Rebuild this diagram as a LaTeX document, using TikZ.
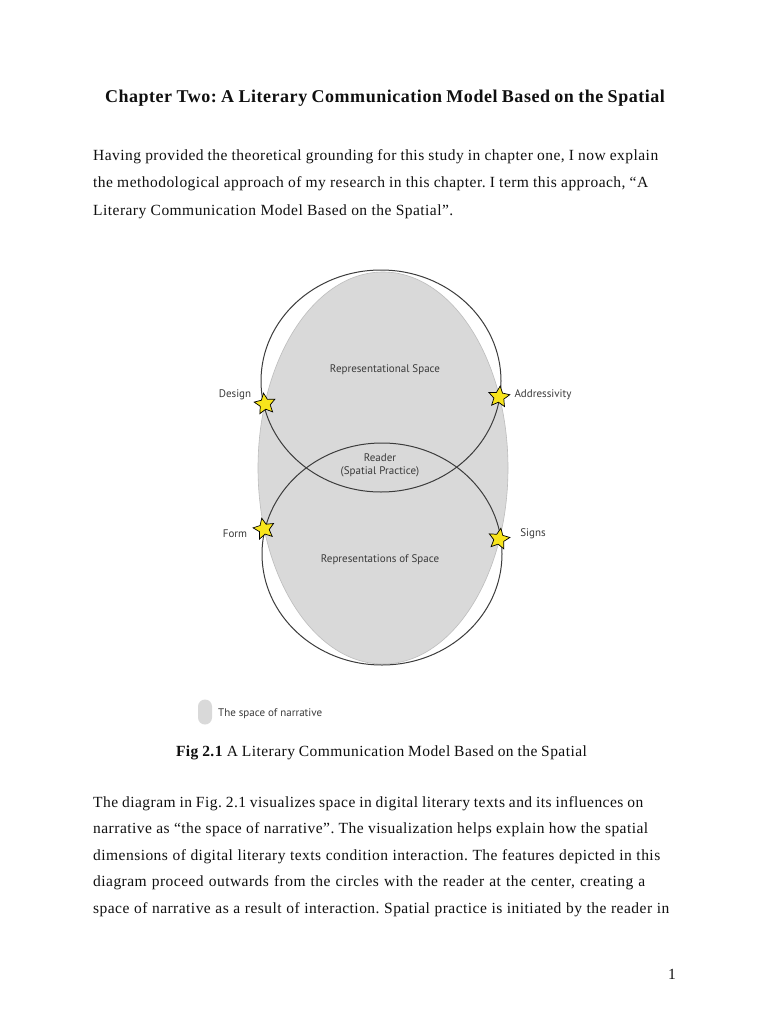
\documentclass[tikz,border=0pt]{standalone}
\usepackage{fontspec}
\setmainfont{Liberation Serif}
\newfontfamily\bodyfont[LetterSpace=3.0]{Liberation Serif}
\newfontfamily\diagfont{PT Sans}
\usetikzlibrary{shapes.geometric}
\definecolor{narr}{HTML}{D9D9D9}
\definecolor{narredge}{HTML}{BDBDBD}
\definecolor{ring}{HTML}{3C3C3C}
\definecolor{labelc}{HTML}{3A3A3A}
\definecolor{staryel}{HTML}{F7E41C}
\definecolor{inkc}{HTML}{101010}
\frenchspacing
\begin{document}
\begin{tikzpicture}[x=1pt,y=-1pt,
  bodyline/.style={anchor=base west, inner sep=0pt, text=inkc, font=\bodyfont\fontsize{15.5}{18}\selectfont\frenchspacing},
  titleline/.style={anchor=base, inner sep=0pt, text=inkc, font=\bodyfont\fontsize{18}{21}\selectfont\bfseries\frenchspacing},
  ringshape/.style={ellipse, draw=ring, line width=1pt, inner sep=0pt, minimum width=240pt, minimum height=222pt},
  narrshape/.style={ellipse, fill=narr, draw=narredge, line width=0.6pt, inner sep=0pt, minimum width=250pt, minimum height=392pt},
  starmark/.style={star, star points=5, star point ratio=2.1, minimum size=22pt, inner sep=0pt, fill=staryel, draw=black, line width=0.7pt},
  dlabel/.style={inner sep=0pt, text=labelc, font=\diagfont\fontsize{11}{13}\selectfont, align=center}
]
\useasboundingbox[fill=white] (0,0) rectangle (768,1024);

% title
\node[titleline] (title) at (385,103) {\makebox[560pt][s]{Chapter Two: A Literary Communication Model Based on the Spatial}};

% first paragraph
\node[bodyline] (p1a) at (93,161) {\makebox[565pt][s]{Having provided the theoretical grounding for this study in chapter one, I now explain}};
\node[bodyline] (p1b) at (93,188) {\makebox[555pt][s]{the methodological approach of my research in this chapter. I term this approach, “A}};
\node[bodyline] (p1c) at (93,215) {Literary Communication Model Based on the Spatial”.};

% diagram
\node[narrshape] (narr) at (383,468) {};
\node[ringshape] (upper) at (381,381) {};
\node[ringshape] (lower) at (382,554) {};

\node[starmark, rotate=8] (sDesign) at (265,404) {};
\node[starmark, rotate=-6] (sAddr) at (499,397) {};
\node[starmark, rotate=12] (sForm) at (264,529) {};
\node[starmark, rotate=-10] (sSigns) at (499,539) {};

\node[dlabel] (lDesign) at (235,395) {Design};
\node[dlabel] (lAddr) at (543,395) {Addressivity};
\node[dlabel] (lForm) at (235,534) {Form};
\node[dlabel] (lSigns) at (533,534) {Signs};
\node[dlabel] (repspace) at (385,370) {Representational Space};
\node[dlabel] (reader) at (380,465) {Reader\\(Spatial Practice)};
\node[dlabel] (repsof) at (380,560) {Representations of Space};

% legend
\node[fill=narr, rounded corners=7pt, minimum width=14pt, minimum height=25pt, inner sep=0pt] (legsw) at (205,712) {};
\node[dlabel, anchor=west] (legtx) at (218,714) {The space of narrative};

% caption
\node[anchor=base, inner sep=0pt, text=inkc, font=\bodyfont\fontsize{15.5}{18}\selectfont\frenchspacing] (caption) at (381.5,756) {\makebox[411pt][s]{\textbf{Fig 2.1} A Literary Communication Model Based on the Spatial}};

% second paragraph
\node[bodyline] (p2a) at (93,807) {\makebox[550pt][s]{The diagram in Fig. 2.1 visualizes space in digital literary texts and its influences on}};
\node[bodyline] (p2b) at (93,833) {\makebox[555pt][s]{narrative as “the space of narrative”. The visualization helps explain how the spatial}};
\node[bodyline] (p2c) at (93,860) {\makebox[567pt][s]{dimensions of digital literary texts condition interaction. The features depicted in this}};
\node[bodyline] (p2d) at (93,886) {\makebox[552pt][s]{diagram proceed outwards from the circles with the reader at the center, creating a}};
\node[bodyline] (p2e) at (93,913) {\makebox[576pt][s]{space of narrative as a result of interaction. Spatial practice is initiated by the reader in}};

% page number
\node[anchor=base, inner sep=0pt, text=inkc, font=\bodyfont\fontsize{15.5}{18}\selectfont] (pagenum) at (672,979) {1};
\end{tikzpicture}
\end{document}
